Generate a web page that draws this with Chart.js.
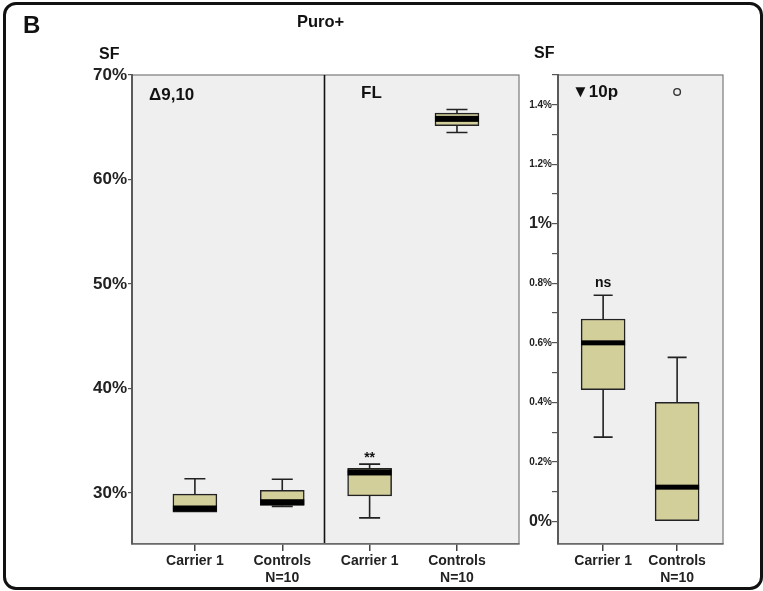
<!DOCTYPE html>
<html>
<head>
<meta charset="utf-8">
<script src="https://cdn.jsdelivr.net/npm/chart.js@4.4.0/dist/chart.umd.min.js"></script>
<style>
  html, body { margin: 0; padding: 0; background: #fff; }
  #wrap { position: relative; width: 763px; height: 591px; overflow: hidden;
          font-family: 'Liberation Sans', Arial, sans-serif; color: #111; }
  #frame { position: absolute; left: 3px; top: 2px; width: 754px; height: 582px;
           border: 3px solid #111; border-radius: 13px; }
  canvas { position: absolute; top: 0; }
  #c1 { left: 0; }
  #c2 { left: 500px; }
  .t { position: absolute; font-weight: bold; line-height: 1; white-space: nowrap; }
</style>
</head>
<body>
<div id="wrap">
  <div id="frame"></div>
  <canvas id="c1" width="530" height="591"></canvas>
  <canvas id="c2" width="263" height="591"></canvas>
  <div class="t" style="left:23px;top:13px;font-size:24px;">B</div>
  <div class="t" style="left:297px;top:13px;font-size:16.5px;">Puro+</div>
  <div class="t" style="left:99px;top:46px;font-size:16px;">SF</div>
  <div class="t" style="left:534px;top:45px;font-size:16px;">SF</div>
  <div class="t" style="left:149px;top:86px;font-size:17px;">&Delta;9,10</div>
  <div class="t" style="left:361px;top:84px;font-size:17px;">FL</div>
  <div class="t" style="left:572px;top:83px;font-size:17px;">&#9660;10p</div>
</div>
<script>
// ---- Left chart: Δ9,10 and FL panels (SF in %) ----
const leftSlots = [1, 2, 3, 4];
const leftLabels = ['Carrier 1', ['Controls', 'N=10'], 'Carrier 1', ['Controls', 'N=10']];
const leftMin    = [28.15, 28.7, 27.6, 64.5];
const leftQ1     = [28.15, 28.8, 29.7, 65.15];
const leftMedian = [28.5, 29.1, 31.95, 65.8];
const leftQ3     = [29.88, 30.25, 32.35, 66.35];
const leftMax    = [31.34, 31.3, 32.75, 66.7];
const leftMarks  = ['', '', '**', ''];
const leftTicks  = [30, 40, 50, 60, 70];
const panelBreak = 2.48;

// ---- Right chart: ▼10p panel (SF in %) ----
const rightSlots = [1, 2];
const rightLabels = ['Carrier 1', ['Controls', 'N=10']];
const rightMin    = [0.283, 0];
const rightQ1     = [0.443, 0];
const rightMedian = [0.60, 0.115];
const rightQ3     = [0.68, 0.40];
const rightMax    = [0.76, 0.551];
const rightMarks  = ['ns', ''];
const rightOutliers = [{ x: 2, y: 1.443 }];
const rightTicks = [0, 0.1, 0.2, 0.3, 0.4, 0.5, 0.6, 0.7, 0.8, 0.9, 1.0, 1.1, 1.2, 1.3, 1.4, 1.5];
const rightTickLabels = ['0%', '', '0.2%', '', '0.4%', '', '0.6%', '', '0.8%', '', '1%', '', '1.2%', '', '1.4%', ''];

const FONT = "'Liberation Sans', Arial, sans-serif";
const BOX_FILL = '#d3cf9b';
const INK = '#222';

// Plot background, frame, panel divider, whiskers, medians and significance marks
const boxParts = {
  id: 'boxParts',
  beforeDraw(chart, args, o) {
    const { ctx, chartArea: a } = chart;
    ctx.save();
    ctx.fillStyle = '#efefef';
    ctx.fillRect(a.left, a.top, a.right - a.left, a.bottom - a.top);
    ctx.strokeStyle = '#7a7a7a';
    ctx.lineWidth = 1.2;
    ctx.strokeRect(a.left, a.top, a.right - a.left, a.bottom - a.top);
    if (o.breakAt != null) {
      const x = Math.round(chart.scales.x.getPixelForValue(o.breakAt)) + 0.5;
      ctx.strokeStyle = '#111';
      ctx.lineWidth = 1.6;
      ctx.beginPath();
      ctx.moveTo(x, a.top);
      ctx.lineTo(x, a.bottom);
      ctx.stroke();
    }
    ctx.restore();
  },
  afterDatasetsDraw(chart, args, o) {
    const { ctx } = chart;
    const xs = chart.scales.x, ys = chart.scales.y;
    ctx.save();
    o.pos.forEach((p, i) => {
      const x = xs.getPixelForValue(p);
      const yMin = ys.getPixelForValue(o.min[i]);
      const yQ1 = ys.getPixelForValue(o.q1[i]);
      const yQ3 = ys.getPixelForValue(o.q3[i]);
      const yMax = ys.getPixelForValue(o.max[i]);
      const yMed = ys.getPixelForValue(o.median[i]);
      ctx.strokeStyle = INK;
      ctx.lineWidth = 1.6;
      ctx.beginPath();
      if (o.max[i] > o.q3[i]) {
        ctx.moveTo(x, yQ3); ctx.lineTo(x, yMax);
        ctx.moveTo(x - o.cap, yMax); ctx.lineTo(x + o.cap, yMax);
      }
      if (o.min[i] < o.q1[i]) {
        ctx.moveTo(x, yQ1); ctx.lineTo(x, yMin);
        ctx.moveTo(x - o.cap, yMin); ctx.lineTo(x + o.cap, yMin);
      }
      ctx.stroke();
      ctx.fillStyle = '#000';
      ctx.fillRect(x - o.half, yMed - o.medianWidth / 2, o.half * 2, o.medianWidth);
      if (o.marks[i]) {
        ctx.fillStyle = '#111';
        ctx.font = 'bold 14px ' + FONT;
        ctx.textAlign = 'center';
        ctx.textBaseline = 'alphabetic';
        ctx.fillText(o.marks[i], x, yMax - o.markGap[i]);
      }
    });
    ctx.restore();
  }
};

function xAxis(slots, labels, min, max) {
  return {
    type: 'linear', min, max, offset: false,
    afterBuildTicks: s => { s.ticks = slots.map(v => ({ value: v })); },
    afterFit: s => { s.height = 47; },
    ticks: {
      autoSkip: false, maxRotation: 0, padding: 2, color: INK,
      font: { family: FONT, weight: 'bold', size: 14, lineHeight: 1.2 },
      callback: (v, i) => labels[i]
    },
    grid: { drawOnChartArea: false, drawTicks: true, tickLength: 7, color: '#444', lineWidth: 1.5, offset: false },
    border: { display: true, color: '#6a6a6a', width: 1.5 }
  };
}

const barBase = {
  type: 'bar',
  backgroundColor: BOX_FILL,
  borderColor: INK,
  borderWidth: 1.5,
  borderSkipped: false,
  barThickness: 44
};

new Chart(document.getElementById('c1'), {
  type: 'bar',
  data: {
    datasets: [Object.assign({}, barBase, {
      data: leftSlots.map((s, i) => ({ x: s, y: [leftQ1[i], leftQ3[i]] }))
    })]
  },
  options: {
    responsive: false, animation: false,
    layout: { padding: { top: 75, right: 11, bottom: 0, left: 0 } },
    plugins: {
      legend: { display: false }, tooltip: { enabled: false },
      boxParts: {
        pos: leftSlots, min: leftMin, q1: leftQ1, median: leftMedian, q3: leftQ3, max: leftMax,
        marks: leftMarks, markGap: [2, 2, 2, 2], breakAt: panelBreak, cap: 10.5, half: 22, medianWidth: 6
      }
    },
    scales: {
      x: xAxis(leftSlots, leftLabels, 0.28, 4.71),
      y: {
        type: 'linear', min: 25.1, max: 70,
        afterBuildTicks: s => { s.ticks = leftTicks.map(v => ({ value: v })); },
        afterFit: s => { s.width = 132; },
        ticks: { padding: 1, color: INK, font: { family: FONT, weight: 'bold', size: 17 }, callback: v => v + '%' },
        grid: { drawOnChartArea: false, drawTicks: true, tickLength: 4, color: '#555', lineWidth: 1.2 },
        border: { display: true, color: '#5a5a5a', width: 2 }
      }
    }
  },
  plugins: [boxParts]
});

new Chart(document.getElementById('c2'), {
  type: 'bar',
  data: {
    datasets: [
      Object.assign({}, barBase, {
        data: rightSlots.map((s, i) => ({ x: s, y: [rightQ1[i], rightQ3[i]] }))
      }),
      {
        type: 'scatter', data: rightOutliers, showLine: false,
        pointStyle: 'circle', pointRadius: 3.3, pointBorderWidth: 1.4,
        pointBackgroundColor: '#efefef', pointBorderColor: '#333'
      }
    ]
  },
  options: {
    responsive: false, animation: false,
    layout: { padding: { top: 75, right: 40, bottom: 0, left: 0 } },
    plugins: {
      legend: { display: false }, tooltip: { enabled: false },
      boxParts: {
        pos: rightSlots, min: rightMin, q1: rightQ1, median: rightMedian, q3: rightQ3, max: rightMax,
        marks: rightMarks, markGap: [8, 8], breakAt: null, cap: 9.5, half: 22, medianWidth: 5
      }
    },
    scales: {
      x: xAxis(rightSlots, rightLabels, 0.39, 2.62),
      y: {
        type: 'linear', min: -0.076, max: 1.5,
        afterBuildTicks: s => { s.ticks = rightTicks.map(v => ({ value: v })); },
        afterFit: s => { s.width = 58; },
        ticks: {
          autoSkip: false, padding: 0, color: INK,
          font: c => ({ family: FONT, weight: 'bold', size: (c.index === 0 || c.index === 10) ? 16 : 10 }),
          callback: (v, i) => rightTickLabels[i]
        },
        grid: { drawOnChartArea: false, drawTicks: true, tickLength: 6, color: '#555', lineWidth: 1.2 },
        border: { display: true, color: '#5a5a5a', width: 2 }
      }
    }
  },
  plugins: [boxParts]
});
</script>
</body>
</html>
